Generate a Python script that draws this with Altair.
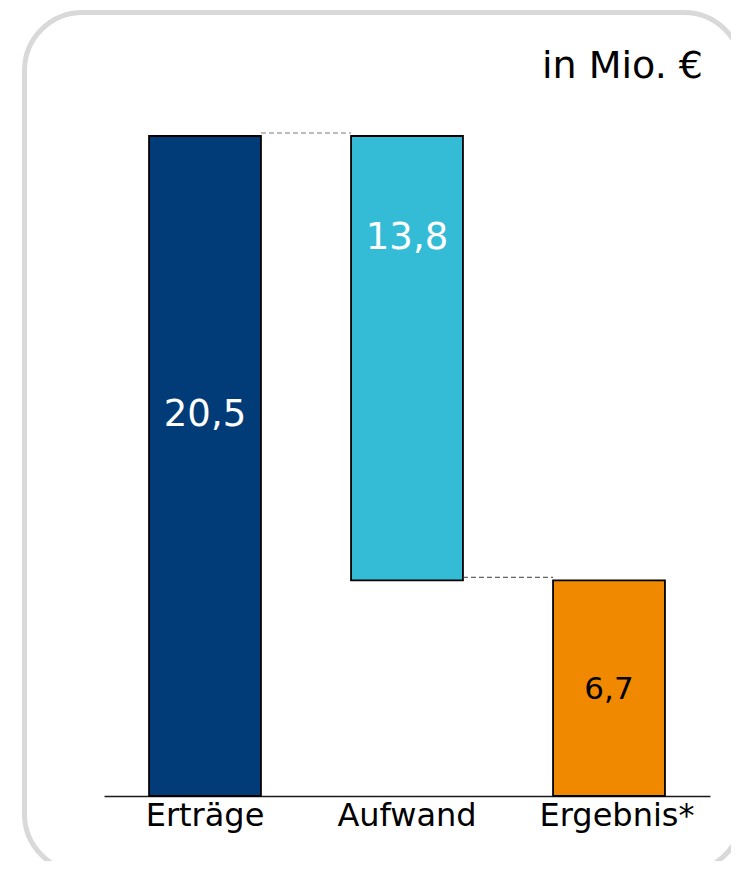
import altair as alt
import pandas as pd

# ---- data ----
categories = ["Erträge", "Aufwand", "Ergebnis*"]
values = [20.5, -13.8, 6.7]          # income, expense, result (in Mio. €)
value_labels = ["20,5", "13,8", "6,7"]
label_levels = [11.5, 17.0, 3.0]     # vertical anchor of the value labels (data units)
note_text = "in Mio. €"

# waterfall geometry from the values
starts, ends = [], []
running = 0.0
for i, v in enumerate(values):
    if i == len(values) - 1:
        starts.append(0.0)
        ends.append(v)
    elif v >= 0:
        starts.append(running)
        running += v
        ends.append(running)
    else:
        starts.append(running + v)
        ends.append(running)
        running += v

bars = pd.DataFrame({
    "cat": categories,
    "start": starts,
    "end": ends,
    "label": value_labels,
    "level": label_levels,
})

connectors = pd.DataFrame({
    "from": [categories[0], categories[1]],
    "to": [categories[1], categories[2]],
    "level": [ends[0], starts[1]],
})

FONT = "DejaVu Sans"
W, H = 606, 660

xscale = alt.Scale(domain=categories, paddingInner=0.446, paddingOuter=0.223)
yscale = alt.Scale(domain=[0, 20.5], nice=False, zero=True)

base = alt.Chart(bars)

label_offset = {"condition": {"test": "datum.value == 'Ergebnis*'", "value": 8}, "value": 0}

bar_layer = base.mark_bar(stroke="black", strokeWidth=1.8).encode(
    x=alt.X("cat:N", scale=xscale, sort=None,
            axis=alt.Axis(title=None, labelAngle=0, labelFont=FONT, labelFontSize=32,
                          labelColor="black", ticks=False, domainColor="#1a1a1a",
                          domainWidth=1.6, labelPadding=4, labelLimit=400, grid=False,
                          labelOffset=label_offset)),
    y=alt.Y("start:Q", scale=yscale, axis=None),
    y2="end:Q",
    color=alt.Color("cat:N", sort=None,
                    scale=alt.Scale(domain=categories,
                                    range=["#023c78", "#34bcd6", "#f08900"]),
                    legend=None),
)

text_layer = base.mark_text(font=FONT, baseline="alphabetic", align="center").encode(
    x=alt.X("cat:N", scale=xscale, sort=None),
    y=alt.Y("level:Q", scale=yscale),
    text="label:N",
    color=alt.condition(alt.datum.cat == categories[2], alt.value("black"), alt.value("white")),
    size=alt.condition(alt.datum.cat == categories[2], alt.value(31), alt.value(37)),
)

rule_layer = alt.Chart(connectors).mark_rule(
    strokeWidth=1, strokeDash=[5, 3], yOffset=-3
).encode(
    x=alt.X("from:N", scale=xscale, sort=None, bandPosition=1),
    x2=alt.X2("to:N", bandPosition=0),
    y=alt.Y("level:Q", scale=yscale),
    color=alt.condition(alt.datum["from"] == categories[0], alt.value("#7a7a7a"), alt.value("#3a3a3a")),
)

note_layer = alt.Chart(pd.DataFrame({"t": [note_text]})).mark_text(
    font=FONT, fontSize=38, align="right", baseline="alphabetic", color="black"
).encode(
    x=alt.value(599),
    y=alt.value(-58),
    text="t:N",
)

frame_layer = alt.Chart(pd.DataFrame({"a": [0]})).mark_rect(
    filled=False, stroke="#d9d9d9", strokeWidth=5, cornerRadius=58
).encode(
    x=alt.value(-79.5),
    x2=alt.value(638),
    y=alt.value(-123.5),
    y2=alt.value(736),
)

chart = alt.layer(frame_layer, bar_layer, rule_layer, text_layer, note_layer).properties(
    width=W,
    height=H,
    autosize=alt.AutoSizeParams(type="none"),
    padding={"left": 96, "top": 128, "right": 21, "bottom": 65},
    background="white",
).configure_view(strokeWidth=0)

chart.save("out.html", embed_options={"renderer": "svg", "actions": False})
